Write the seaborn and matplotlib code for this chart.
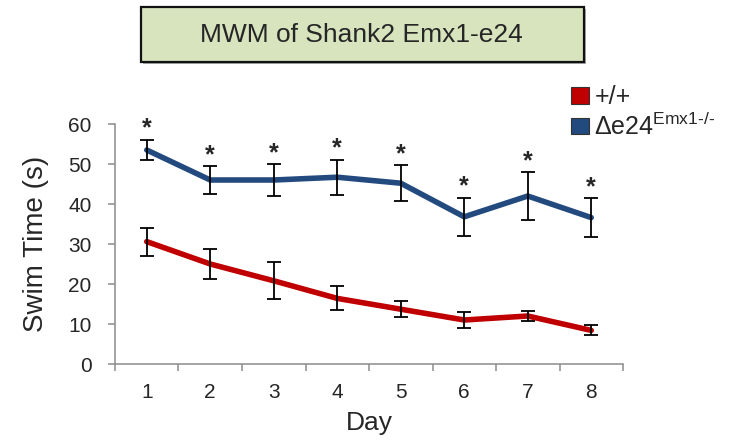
import numpy as np
import pandas as pd
import matplotlib
matplotlib.use('Agg')
import matplotlib.pyplot as plt
import seaborn as sns
from matplotlib.patches import Patch, Rectangle

# DATA
days = [1, 2, 3, 4, 5, 6, 7, 8]
wt_mean = [30.6, 25.0, 20.8, 16.4, 13.7, 11.0, 12.0, 8.4]
wt_sem = [3.5, 3.8, 4.6, 3.0, 2.0, 2.0, 1.25, 1.25]
ko_mean = [53.5, 46.0, 46.0, 46.7, 45.2, 36.8, 42.0, 36.6]
ko_sem = [2.6, 3.5, 4.0, 4.4, 4.5, 4.8, 6.0, 4.8]
significant = [True] * 8
groups = ['+/+', 'ko']
y_ticks = [0, 10, 20, 30, 40, 50, 60]

red = '#c00000'
blue = '#224a7f'

sns.set_style('white')
plt.rcParams['font.family'] = ['Liberation Sans', 'DejaVu Sans']
plt.rcParams['mathtext.fontset'] = 'custom'
plt.rcParams['mathtext.rm'] = 'Liberation Sans'

df = pd.DataFrame({
    'day': days * 2,
    'time': wt_mean + ko_mean,
    'sem': wt_sem + ko_sem,
    'group': [groups[0]] * len(days) + [groups[1]] * len(days),
})

fig = plt.figure(figsize=(7.32, 4.41), dpi=100)
ax = fig.add_axes([0.1571, 0.1746, 0.694, 0.5442])

sns.lineplot(data=df, x='day', y='time', hue='group',
             palette={groups[0]: red, groups[1]: blue},
             linewidth=4, legend=False, ax=ax, zorder=2)

for g in groups:
    sub = df[df['group'] == g]
    ax.errorbar(sub['day'], sub['time'], yerr=sub['sem'], fmt='none',
                ecolor='black', elinewidth=1.3, capsize=5, capthick=1.3, zorder=3)

# significance stars above the knockout error bars
ko = df[df['group'] == groups[1]]
for d, m, s, sig in zip(ko['day'], ko['time'], ko['sem'], significant):
    if sig:
        ax.annotate('*', (d, m + s), xytext=(0, 3), textcoords='offset points',
                    ha='center', va='baseline', fontsize=18, fontweight='bold',
                    annotation_clip=False)

ax.set_xlim(0.5, 8.5)
ax.set_ylim(0, 60)
ax.set_xticks(days)
ax.set_xticks(np.arange(0.5, 9, 1), minor=True)
ax.set_yticks(y_ticks)
ax.tick_params(axis='x', which='major', length=0, pad=14, labelsize=15)
ax.tick_params(axis='x', which='minor', direction='out', length=5,
               width=1.1, color='#8c8c8c', bottom=True)
ax.tick_params(axis='y', direction='out', length=5, width=1.1,
               color='#8c8c8c', pad=12, labelsize=15, left=True)

for side in ['top', 'right']:
    ax.spines[side].set_visible(False)
for side in ['left', 'bottom']:
    ax.spines[side].set_color('#8c8c8c')
    ax.spines[side].set_linewidth(1.1)

ax.set_xlabel('Day', fontsize=19, labelpad=6)
ax.set_ylabel('Swim Time (s)', fontsize=20, labelpad=14)

# legend with square swatches
handles = [Patch(facecolor=red, edgecolor='#333333', linewidth=0.8),
           Patch(facecolor=blue, edgecolor='#333333', linewidth=0.8)]
labels = ['+/+', r'$\mathrm{\Delta e24}^{\mathrm{Emx1\text{-}/\text{-}}}$']
fig.legend(handles, labels, loc='upper left', bbox_to_anchor=(0.766, 0.83),
           frameon=False, fontsize=18, handlelength=0.75, handleheight=0.65,
           handletextpad=0.2, labelspacing=0.15, borderaxespad=0)

# title box
fig.patches.append(Rectangle((143 / 732, 1 - 64 / 441), 443 / 732, 55 / 441,
                             transform=fig.transFigure, facecolor='#aaaaaa',
                             edgecolor='none', zorder=0))
fig.patches.append(Rectangle((141 / 732, 1 - 62 / 441), 443 / 732, 55 / 441,
                             transform=fig.transFigure, facecolor='#d7e4bd',
                             edgecolor='#111111', linewidth=1.6, zorder=1))
fig.text(0.493, 1 - 35 / 441, 'MWM of Shank2 Emx1-e24', ha='center', va='center',
         fontsize=19, zorder=2)

fig.savefig('out.png', dpi=100)
